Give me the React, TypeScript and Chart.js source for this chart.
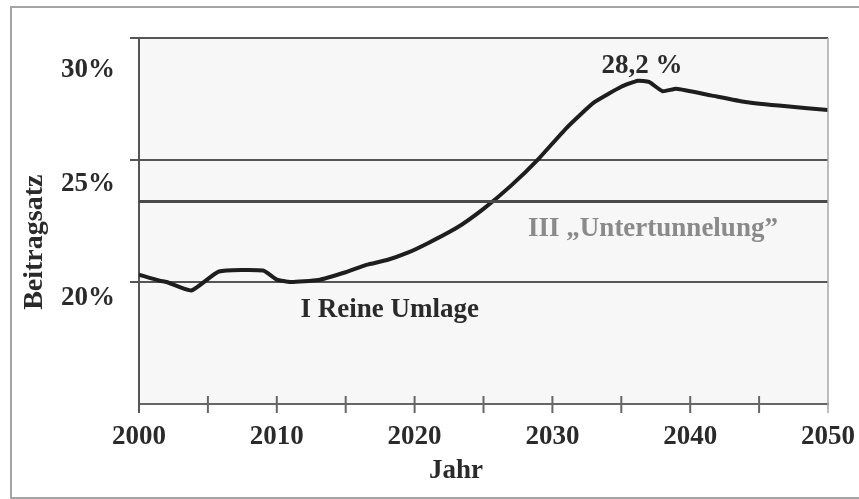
import { useEffect, useRef } from 'react';
import { Chart, registerables } from 'chart.js';

Chart.register(...registerables);

// ---- data ----
const years = [2000, 2001.5, 2002, 2003.8, 2005.8, 2009, 2010, 2011, 2013, 2015, 2016.5, 2018, 2019.5, 2021, 2023, 2025, 2027, 2029, 2031, 2033, 2035, 2036.2, 2037, 2038, 2039, 2041.5, 2044, 2047, 2050];
const beitragsatz = [20.3, 20.05, 20.0, 19.65, 20.43, 20.47, 20.1, 20.0, 20.08, 20.4, 20.7, 20.9, 21.2, 21.6, 22.2, 23.0, 23.95, 25.05, 26.3, 27.35, 28.0, 28.25, 28.2, 27.82, 27.92, 27.65, 27.38, 27.2, 27.05];
const untertunnelungYears = [2000, 2050];
const untertunnelungLevel = [23.3, 23.3];
const yGridValues = [20, 25, 30];
const yTickLabels = [20, 25, 30];
const xMinorTicks = [2005, 2010, 2015, 2020, 2025, 2030, 2035, 2040, 2045];
const xTitle = 'Jahr';
const yTitle = 'Beitragsatz';
const peakLabel = '28,2 %';
const labelIII = 'III \u201EUntertunnelung\u201D';
const labelI = 'I Reine Umlage';

const FAMILY = '"Liberation Serif", "Times New Roman", serif';
const TEXT = '#2a2a2a';

const decor = {
  id: 'decor',
  beforeDraw(chart: any) {
    const { ctx, chartArea: a } = chart;
    ctx.save();
    ctx.fillStyle = '#ffffff';
    ctx.fillRect(0, 0, chart.width, chart.height);
    ctx.fillStyle = '#f7f7f7';
    ctx.fillRect(a.left, a.top, a.right - a.left, a.bottom - a.top);
    ctx.strokeStyle = '#a4a4a4';
    ctx.lineWidth = 2;
    ctx.strokeRect(11, 7, chart.width + 20, 491);
    ctx.restore();
  },
  afterDraw(chart: any) {
    const { ctx, chartArea: a, scales } = chart;
    const xs = scales.x;
    const ys = scales.y;
    ctx.save();
    // right border
    ctx.strokeStyle = '#a8a8a8';
    ctx.lineWidth = 1.5;
    ctx.beginPath();
    ctx.moveTo(a.right, a.top);
    ctx.lineTo(a.right, a.bottom + 9);
    ctx.stroke();
    // left axis extension
    ctx.strokeStyle = '#555';
    ctx.lineWidth = 2;
    ctx.beginPath();
    ctx.moveTo(a.left, a.bottom);
    ctx.lineTo(a.left, a.bottom + 9);
    ctx.stroke();
    // x tick marks crossing axis
    ctx.strokeStyle = '#666';
    ctx.lineWidth = 2;
    for (const t of xMinorTicks) {
      const px = xs.getPixelForValue(t);
      ctx.beginPath();
      ctx.moveTo(px, a.bottom - 8);
      ctx.lineTo(px, a.bottom + 9);
      ctx.stroke();
    }
    // texts
    ctx.font = `bold 27px ${FAMILY}`;
    ctx.textAlign = 'center';
    ctx.textBaseline = 'middle';
    ctx.fillStyle = TEXT;
    ctx.fillText(peakLabel, xs.getPixelForValue(2036.5), ys.getPixelForValue(28.87));
    ctx.fillText(labelI, xs.getPixelForValue(2018.2), ys.getPixelForValue(18.87));
    ctx.fillStyle = '#8a8a8a';
    ctx.fillText(labelIII, xs.getPixelForValue(2037.3), ys.getPixelForValue(22.16));
    ctx.fillStyle = TEXT;
    ctx.fillText(xTitle, xs.getPixelForValue(2023), 471);
    ctx.translate(35, ys.getPixelForValue(21.63));
    ctx.rotate(-Math.PI / 2);
    ctx.font = `bold 28px ${FAMILY}`;
    ctx.fillText(yTitle, 0, 0);
    ctx.restore();
  },
};

export default function App() {
  const ref = useRef<HTMLCanvasElement | null>(null);
  useEffect(() => {
    if (!ref.current) return;
    const chart = new Chart(ref.current, {
      type: 'line',
      data: {
        datasets: [
          {
            label: 'Untertunnelung',
            data: untertunnelungYears.map((x, i) => ({ x, y: untertunnelungLevel[i] })),
            borderColor: '#4a4a4a',
            borderWidth: 3,
            pointRadius: 0,
            xAxisID: 'x',
            yAxisID: 'y',
          },
          {
            label: 'Beitragsatz',
            data: years.map((x, i) => ({ x, y: beitragsatz[i] })),
            borderColor: '#1e1e1e',
            borderWidth: 4,
            pointRadius: 0,
            tension: 0.15,
            xAxisID: 'x',
            yAxisID: 'y',
          },
        ],
      },
      options: {
        responsive: false,
        animation: false,
        devicePixelRatio: 1,
        layout: { padding: { left: 0, top: 38, right: 31, bottom: 0 } },
        plugins: { legend: { display: false }, tooltip: { enabled: false }, title: { display: false } },
        scales: {
          x: {
            type: 'linear',
            position: 'bottom',
            min: 2000,
            max: 2050,
            grid: { display: false, drawTicks: false },
            border: { display: true, color: '#666', width: 2 },
            ticks: {
              stepSize: 10,
              padding: 17,
              maxRotation: 0,
              autoSkip: false,
              color: TEXT,
              font: { family: FAMILY, size: 27, weight: 'bold' },
              callback: (v: any) => String(v),
            },
            afterFit: (s: any) => { s.height = 95; s.paddingLeft = 0; s.paddingRight = 0; },
          },
          y: {
            type: 'linear',
            position: 'left',
            min: 15,
            max: 30,
            weight: 0,
            afterBuildTicks: (s: any) => { s.ticks = yGridValues.map((v) => ({ value: v })); },
            grid: { color: '#555', lineWidth: 2, tickLength: 9, drawTicks: true },
            border: { display: true, color: '#555', width: 2 },
            ticks: { display: false },
            afterFit: (s: any) => { s.width = 9; s.paddingTop = 0; s.paddingBottom = 0; },
          },
          yLabels: {
            type: 'linear',
            position: 'left',
            min: 15.35,
            max: 31.4,
            weight: 1,
            afterBuildTicks: (s: any) => { s.ticks = yTickLabels.map((v) => ({ value: v })); },
            grid: { display: false, drawTicks: false },
            border: { display: false },
            ticks: {
              padding: 15,
              color: TEXT,
              font: { family: FAMILY, size: 27, weight: 'bold' },
              callback: (v: any) => `${v}%`,
            },
            afterFit: (s: any) => { s.width = 130; s.paddingTop = 0; s.paddingBottom = 0; },
          },
        } as any,
      },
      plugins: [decor],
    });
    return () => chart.destroy();
  }, []);
  return (
    <div style={{ position: 'absolute', left: 0, top: 0, width: 859, height: 499 }}>
      <canvas ref={ref} width={859} height={499} style={{ display: 'block' }} />
    </div>
  );
}
